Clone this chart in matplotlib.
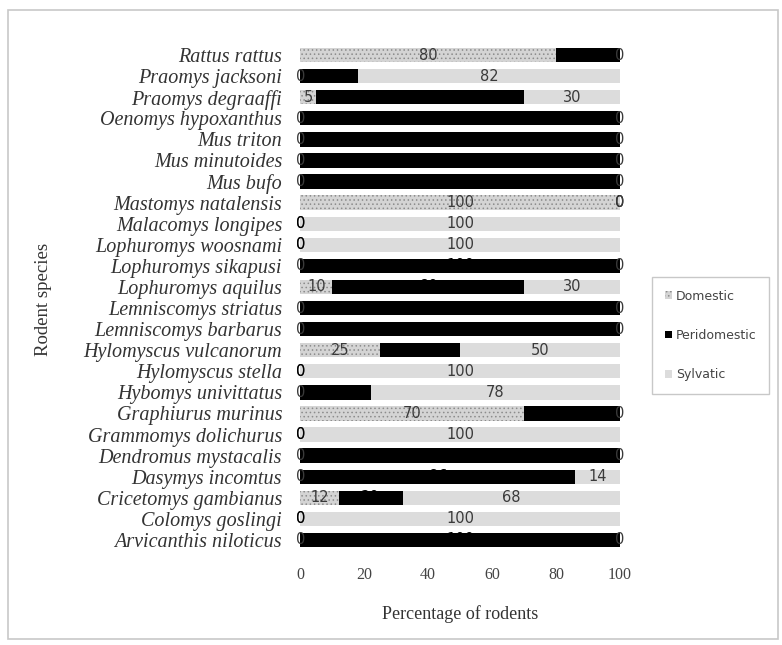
import numpy as np
import matplotlib
matplotlib.use('Agg')
import matplotlib.pyplot as plt
from matplotlib.patches import Rectangle

############# Data #############
species = ['Rattus rattus', 'Praomys jacksoni', 'Praomys degraaffi', 'Oenomys hypoxanthus',
           'Mus triton', 'Mus minutoides', 'Mus bufo', 'Mastomys natalensis',
           'Malacomys longipes', 'Lophuromys woosnami', 'Lophuromys sikapusi',
           'Lophuromys aquilus', 'Lemniscomys striatus', 'Lemniscomys barbarus',
           'Hylomyscus vulcanorum', 'Hylomyscus stella', 'Hybomys univittatus',
           'Graphiurus murinus', 'Grammomys dolichurus', 'Dendromus mystacalis',
           'Dasymys incomtus', 'Cricetomys gambianus', 'Colomys goslingi',
           'Arvicanthis niloticus']
domestic =     [80, 0, 5, 0, 0, 0, 0, 100, 0, 0, 0, 10, 0, 0, 25, 0, 0, 70, 0, 0, 0, 12, 0, 0]
peridomestic = [20, 18, 65, 100, 100, 100, 100, 0, 0, 0, 100, 60, 100, 100, 25, 0, 22, 30, 0, 100, 86, 20, 0, 100]
sylvatic =     [0, 82, 30, 0, 0, 0, 0, 0, 100, 100, 0, 30, 0, 0, 50, 100, 78, 0, 100, 0, 14, 68, 100, 0]
categories = ['Domestic', 'Peridomestic', 'Sylvatic']

series = [np.array(domestic), np.array(peridomestic), np.array(sylvatic)]
y = np.arange(len(species))

############# Plotting #############
plt.rcParams['hatch.linewidth'] = 0.6
fig = plt.figure(figsize=(7.82, 6.45), dpi=100)
ax = fig.add_axes([0.384, 0.1465, 0.409, 0.7845])

styles = [dict(color='#d4d4d4', hatch='....', edgecolor='#8c8c8c', linewidth=0),
          dict(color='black', linewidth=0),
          dict(color='#dcdcdc', linewidth=0)]
label_colors = ['#3a3a3a', 'black', '#3a3a3a']

left = np.zeros(len(species))
handles = []
for vals, name, st, lc in zip(series, categories, styles, label_colors):
    b = ax.barh(y, vals, left=left, height=0.68, label=name, **st)
    handles.append(b)
    for yi, (l, v) in enumerate(zip(left, vals)):
        ax.text(l + v / 2, yi, '%d' % v, ha='center', va='center',
                fontsize=10.5, color=lc, family='DejaVu Sans')
    left = left + vals

ax.set_xlim(0, 100)
ax.set_ylim(len(species) - 0.5, -0.5)
ax.set_yticks(y)
ax.set_yticklabels(species, fontsize=14.5, fontstyle='italic',
                   family='Liberation Serif', color='#333333')
ax.set_xticks([0, 20, 40, 60, 80, 100])
ax.set_xticklabels(['0', '20', '40', '60', '80', '100'], fontsize=11.5,
                   family='Liberation Serif', color='#444444')
ax.tick_params(length=0)
ax.tick_params(axis='x', pad=12)
ax.tick_params(axis='y', pad=13)
for s in ax.spines.values():
    s.set_visible(False)

ax.set_xlabel('Percentage of rodents', fontsize=13, family='Liberation Serif',
              color='#333333', labelpad=16)
fig.text(0.056, 0.535, 'Rodent species', rotation=90, fontsize=13.5,
         family='Liberation Serif', color='#333333', ha='center', va='center')

leg = fig.legend(handles=handles, labels=categories, loc='center left',
                 bbox_to_anchor=(0.826, 0.48), prop={'family': 'DejaVu Sans', 'size': 9},
                 handlelength=0.6, handleheight=0.6, handletextpad=0.3,
                 labelspacing=2.1, borderpad=1.0, fancybox=False, edgecolor='#bbbbbb')
for t in leg.get_texts():
    t.set_color('#444444')

# light frame around the whole picture
fig.patches.append(Rectangle((0.01, 0.01), 0.985, 0.975, transform=fig.transFigure,
                             fill=False, edgecolor='#c8c8c8', linewidth=1.2))

fig.savefig('out.png', dpi=100)
